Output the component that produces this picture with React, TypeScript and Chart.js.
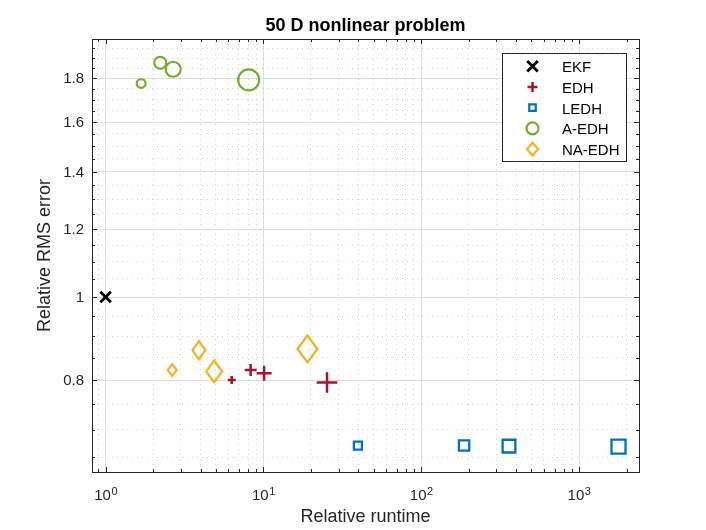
import { useEffect, useRef } from "react";
import { Chart, registerables } from "chart.js";
import { drawPoint } from "chart.js/helpers";

Chart.register(...registerables);

// relative runtime (x) and relative RMS error (y) per filter
const ekfRuntime = [1];
const ekfError = [1];
const edhRuntime = [6.3, 8.3, 10.1, 25.3];
const edhError = [0.8, 0.822, 0.815, 0.795];
const ledhRuntime = [39.7, 187, 360, 1780];
const ledhError = [0.671, 0.671, 0.67, 0.669];
const aedhRuntime = [1.68, 2.22, 2.68, 8.07];
const aedhError = [1.775, 1.876, 1.844, 1.792];
const naedhRuntime = [2.64, 3.9, 4.87, 19];
const naedhError = [0.822, 0.867, 0.819, 0.87];

const xMajorTicks = [1, 10, 100, 1000];
const xMinorTicks = [0.9, 2, 3, 4, 5, 6, 7, 8, 9, 20, 30, 40, 50, 60, 70, 80, 90, 200, 300, 400, 500, 600, 700, 800, 900, 2000];
const yMajorTicks = [0.8, 1, 1.2, 1.4, 1.6, 1.8];
const yTickLabels = ["0.8", "1", "1.2", "1.4", "1.6", "1.8"];
const yMinorTicks = [0.65, 0.7, 0.75, 0.85, 0.9, 0.95, 1.05, 1.1, 1.15, 1.25, 1.3, 1.35, 1.45, 1.5, 1.55, 1.65, 1.7, 1.75, 1.85, 1.9, 1.95];
const xLimits = [0.82, 2400];
const yLimits = [0.625, 2];

const FONT = "'Liberation Sans', Arial, sans-serif";
const AXIS = "#262626";
const MAJOR_GRID = "#dedede";
const MINOR_GRID = "#d0d0d0";

const RED = "#A2142F";
const BLUE = "#0072BD";
const GREEN = "#77AC30";
const YELLOW = "#EDB120";

function diamond(w: number, h: number, color: string, lw = 2) {
  const c = document.createElement("canvas");
  const pad = lw + 2;
  c.width = Math.ceil(w + pad * 2);
  c.height = Math.ceil(h + pad * 2);
  const g = c.getContext("2d")!;
  const cx = c.width / 2;
  const cy = c.height / 2;
  g.strokeStyle = color;
  g.lineWidth = lw;
  g.beginPath();
  g.moveTo(cx, cy - h / 2);
  g.lineTo(cx + w / 2, cy);
  g.lineTo(cx, cy + h / 2);
  g.lineTo(cx - w / 2, cy);
  g.closePath();
  g.stroke();
  return c;
}

const pts = (xs: number[], ys: number[]) => xs.map((x, i) => ({ x, y: ys[i] }));

function setTicks(majors: number[], minors: number[], limits: number[]) {
  return (scale: any) => {
    scale.ticks = [
      ...majors.map((value) => ({ value, major: true })),
      ...minors.map((value) => ({ value, major: false })),
    ].sort((a, b) => a.value - b.value);
    scale.min = limits[0];
    scale.max = limits[1];
  };
}

const isMajor = (ctx: any, majors: number[]) => !!ctx.tick && majors.includes(ctx.tick.value);

// box, inward ticks, x tick labels with exponents, title and legend
const decorations = {
  id: "decorations",
  afterDatasetsDraw(chart: any) {
    const { ctx, chartArea: a, scales } = chart;
    const { x, y } = scales;
    ctx.save();
    ctx.strokeStyle = AXIS;
    ctx.lineWidth = 1;
    ctx.beginPath();
    for (const v of [...xMajorTicks, ...xMinorTicks]) {
      const px = Math.round(x.getPixelForValue(v)) + 0.5;
      const len = xMajorTicks.includes(v) ? 5 : 3;
      ctx.moveTo(px, a.bottom);
      ctx.lineTo(px, a.bottom - len);
      ctx.moveTo(px, a.top);
      ctx.lineTo(px, a.top + len);
    }
    for (const v of [...yMajorTicks, ...yMinorTicks]) {
      const py = Math.round(y.getPixelForValue(v)) + 0.5;
      const len = yMajorTicks.includes(v) ? 5 : 3;
      ctx.moveTo(a.left, py);
      ctx.lineTo(a.left + len, py);
      ctx.moveTo(a.right, py);
      ctx.lineTo(a.right - len, py);
    }
    ctx.stroke();
    ctx.strokeRect(Math.round(a.left) + 0.5, Math.round(a.top) + 0.5, Math.round(a.right - a.left), Math.round(a.bottom - a.top));

    // x tick labels 10^k
    ctx.fillStyle = AXIS;
    ctx.textBaseline = "alphabetic";
    ctx.textAlign = "left";
    for (const v of xMajorTicks) {
      const px = x.getPixelForValue(v);
      const exp = String(Math.round(Math.log10(v)));
      ctx.font = `15px ${FONT}`;
      const wb = ctx.measureText("10").width;
      ctx.font = `11px ${FONT}`;
      const we = ctx.measureText(exp).width;
      const left = px - (wb + we) / 2;
      ctx.font = `15px ${FONT}`;
      ctx.fillText("10", left, 500);
      ctx.font = `11px ${FONT}`;
      ctx.fillText(exp, left + wb + 0.5, 495);
    }

    // title
    ctx.fillStyle = "#000";
    ctx.font = `bold 18px ${FONT}`;
    ctx.textAlign = "center";
    ctx.fillText("50 D nonlinear problem", (a.left + a.right) / 2, 31);

    // legend
    const lx = 502, ly = 53, lw = 124, lh = 108;
    ctx.fillStyle = "#fff";
    ctx.fillRect(lx, ly, lw, lh);
    ctx.strokeStyle = AXIS;
    ctx.lineWidth = 1;
    ctx.strokeRect(lx + 0.5, ly + 0.5, lw, lh);
    const marks: any[] = [
      { pointStyle: "crossRot", radius: 7.5, borderWidth: 2.8, color: "#000" },
      { pointStyle: "cross", radius: 5, borderWidth: 2.5, color: RED },
      { pointStyle: "rect", radius: 4.6, borderWidth: 2.2, color: BLUE },
      { pointStyle: "circle", radius: 6, borderWidth: 2.2, color: GREEN },
      { pointStyle: diamond(11, 13, YELLOW, 2.2), radius: 6, borderWidth: 2, color: YELLOW },
    ];
    chart.data.datasets.forEach((ds: any, i: number) => {
      const base = 72.3 + i * 20.7;
      const m = marks[i];
      ctx.strokeStyle = m.color;
      ctx.fillStyle = "rgba(0,0,0,0)";
      ctx.lineWidth = m.borderWidth;
      drawPoint(ctx, { pointStyle: m.pointStyle, radius: m.radius, rotation: 0, borderWidth: m.borderWidth }, 532.5, base - 6);
      ctx.fillStyle = "#000";
      ctx.font = `15px ${FONT}`;
      ctx.textAlign = "left";
      ctx.fillText(ds.label, 562, base);
    });
    ctx.restore();
  },
};

export default function App() {
  const canvasRef = useRef<HTMLCanvasElement>(null);

  useEffect(() => {
    const ctx = canvasRef.current?.getContext("2d");
    if (!ctx) return;
    Chart.defaults.font.family = FONT;

    const clear = "rgba(0,0,0,0)";
    const chart = new Chart(ctx, {
      type: "scatter",
      data: {
        datasets: [
          {
            label: "EKF",
            data: pts(ekfRuntime, ekfError),
            pointStyle: "crossRot",
            pointRadius: 7.5,
            pointBorderWidth: 2.8,
            pointBorderColor: "#000",
            pointBackgroundColor: clear,
          },
          {
            label: "EDH",
            data: pts(edhRuntime, edhError),
            pointStyle: "cross",
            pointRadius: [4, 6, 7.5, 10.3],
            pointBorderWidth: 2.5,
            pointBorderColor: RED,
            pointBackgroundColor: clear,
          },
          {
            label: "LEDH",
            data: pts(ledhRuntime, ledhError),
            pointStyle: "rect",
            pointRadius: [5.7, 7.3, 9, 9.9],
            pointBorderWidth: 2.3,
            pointBorderColor: BLUE,
            pointBackgroundColor: clear,
          },
          {
            label: "A-EDH",
            data: pts(aedhRuntime, aedhError),
            pointStyle: "circle",
            pointRadius: [4.4, 6, 7.5, 10.5],
            pointBorderWidth: 2.2,
            pointBorderColor: GREEN,
            pointBackgroundColor: clear,
          },
          {
            label: "NA-EDH",
            data: pts(naedhRuntime, naedhError),
            pointStyle: [diamond(9, 12, YELLOW, 2.2), diamond(13, 18, YELLOW, 2.2), diamond(16, 22, YELLOW, 2.2), diamond(20, 27, YELLOW, 2.2)],
            pointRadius: [6, 9, 11, 13],
            pointBorderWidth: 2,
            pointBorderColor: YELLOW,
            pointBackgroundColor: clear,
          },
        ],
      },
      options: {
        animation: false,
        responsive: true,
        maintainAspectRatio: false,
        events: [],
        layout: { padding: { left: 0, right: 67, top: 39, bottom: 0 } },
        plugins: {
          legend: { display: false },
          title: { display: false },
          tooltip: { enabled: false },
        },
        scales: {
          x: {
            type: "logarithmic",
            min: xLimits[0],
            max: xLimits[1],
            bounds: "data",
            afterBuildTicks: setTicks(xMajorTicks, xMinorTicks, xLimits),
            afterFit: (s: any) => {
              s.height = 58;
            },
            ticks: { display: false, autoSkip: false },
            grid: {
              drawTicks: false,
              lineWidth: 1,
              color: (c: any) => (isMajor(c, xMajorTicks) ? MAJOR_GRID : MINOR_GRID),
            },
            border: {
              display: false,
              dash: (c: any) => (isMajor(c, xMajorTicks) || !c.tick ? [] : [1, 4]),
            },
            title: {
              display: true,
              text: "Relative runtime",
              color: AXIS,
              font: { size: 18 },
              padding: { top: 0, bottom: 2 },
            },
          },
          y: {
            type: "logarithmic",
            min: yLimits[0],
            max: yLimits[1],
            bounds: "data",
            afterBuildTicks: setTicks(yMajorTicks, yMinorTicks, yLimits),
            afterFit: (s: any) => {
              s.width = 92;
            },
            ticks: {
              autoSkip: false,
              padding: 8,
              labelOffset: 1,
              color: AXIS,
              font: { size: 15 },
              callback: (v: any) => {
                const i = yMajorTicks.indexOf(Number(v));
                return i >= 0 ? yTickLabels[i] : "";
              },
            },
            grid: {
              drawTicks: false,
              lineWidth: 1,
              color: (c: any) => (isMajor(c, yMajorTicks) ? MAJOR_GRID : MINOR_GRID),
            },
            border: {
              display: false,
              dash: (c: any) => (isMajor(c, yMajorTicks) || !c.tick ? [] : [1, 4]),
            },
            title: {
              display: true,
              text: "Relative RMS error",
              color: AXIS,
              font: { size: 18 },
              padding: { top: 34, bottom: 0 },
            },
          },
        },
      },
      plugins: [decorations],
    } as any);

    return () => {
      chart.destroy();
    };
  }, []);

  return (
    <div style={{ position: "absolute", left: 0, top: 0, width: 706, height: 530, background: "#fff" }}>
      <canvas ref={canvasRef} />
    </div>
  );
}
